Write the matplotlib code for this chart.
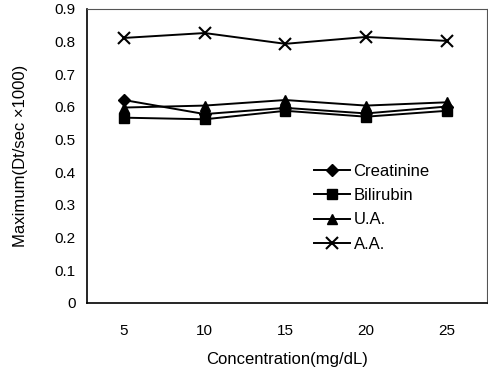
import numpy as np
import matplotlib.pyplot as plt

plt.rcParams['font.family'] = ['Liberation Sans', 'DejaVu Sans']

concentration = ['5', '10', '15', '20', '25']
creatinine = [0.621, 0.578, 0.597, 0.580, 0.601]
bilirubin = [0.567, 0.562, 0.588, 0.570, 0.588]
uric_acid = [0.598, 0.604, 0.621, 0.604, 0.614]
ascorbic_acid = [0.811, 0.826, 0.793, 0.814, 0.802]

fig = plt.figure(figsize=(4.88, 3.69), dpi=100)
ax = fig.add_axes([0.178, 0.179, 0.82, 0.797])

x = np.arange(1, len(concentration) + 1)
ax.plot(x, creatinine, '-D', color='black', lw=1.4, ms=6, label='Creatinine')
ax.plot(x, bilirubin, '-s', color='black', lw=1.4, ms=7.5, label='Bilirubin')
ax.plot(x, uric_acid, '-^', color='black', lw=1.4, ms=7.5, label='U.A.')
ax.plot(x, ascorbic_acid, '-x', color='black', lw=1.4, ms=8, mew=1.5, label='A.A.')

ax.set_xlim(0.54, 5.5)
ax.set_ylim(0, 0.9)
ax.set_xticks(x)
ax.set_xticklabels(concentration)
ax.set_yticks(np.arange(0, 0.91, 0.1))
ax.set_yticklabels(['0'] + [f'{v:.1f}' for v in np.arange(0.1, 0.91, 0.1)])
ax.tick_params(axis='x', length=0, pad=15, labelsize=11)
ax.tick_params(axis='y', length=0, pad=8, labelsize=11)

for side in ['left', 'bottom']:
    ax.spines[side].set_linewidth(1.2)
for side in ['top', 'right']:
    ax.spines[side].set_linewidth(0.8)
    ax.spines[side].set_color('#555555')

ax.set_xlabel('Concentration(mg/dL)', fontsize=12, labelpad=10)
ax.set_ylabel('Maximum(Dt/sec \u00d71000)', fontsize=12, labelpad=19)

ax.legend(loc='upper left', bbox_to_anchor=(0.55, 0.495), frameon=False,
          fontsize=12, handlelength=2.2, handletextpad=0.2, labelspacing=0.55,
          borderaxespad=0)

fig.savefig('out.png', dpi=100)
